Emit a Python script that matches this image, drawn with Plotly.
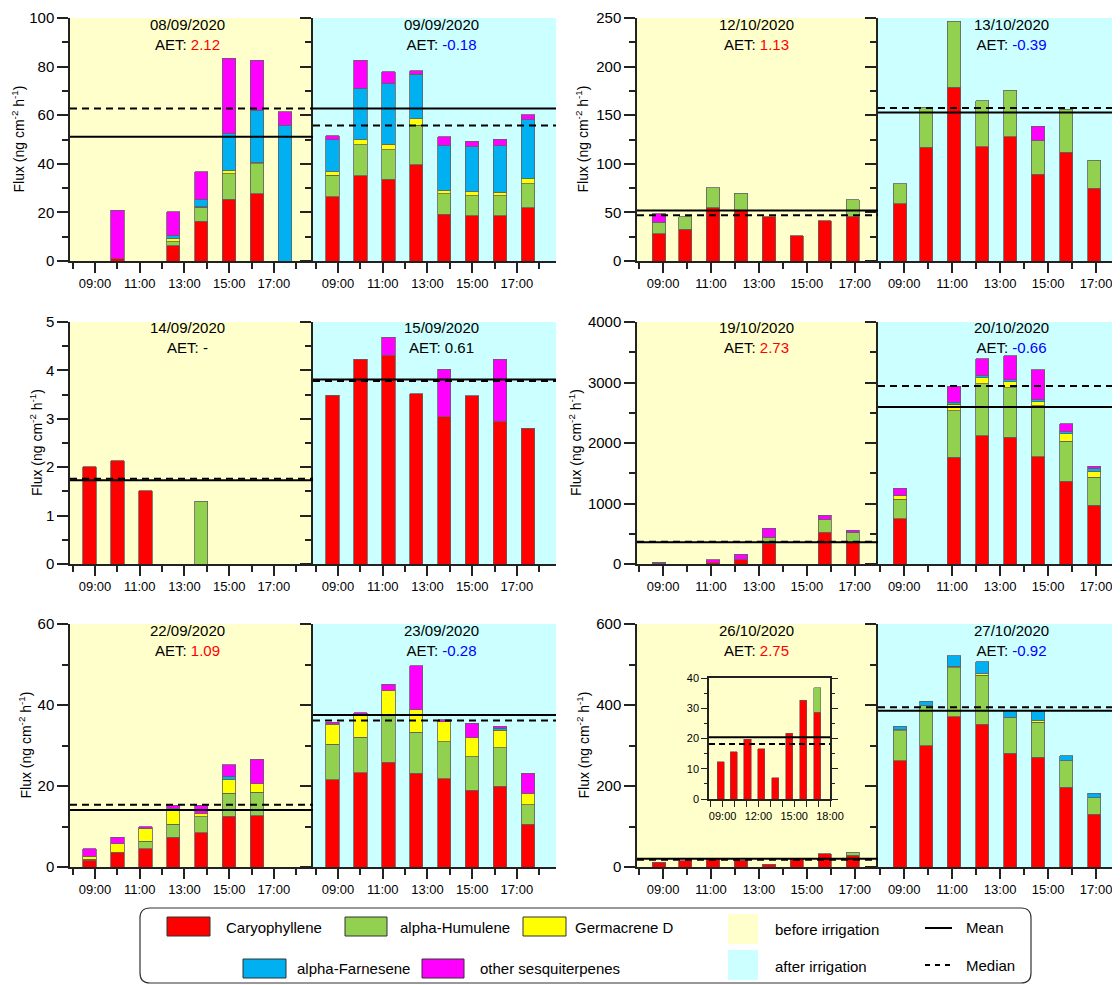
import plotly.graph_objects as go

# ---------------- data ----------------
COMPOUNDS = ["Caryophyllene", "alpha-Humulene", "Germacrene D", "alpha-Farnesene", "other sesquiterpenes"]
COMPOUND_COLORS = ["#FF0000", "#92D050", "#FFFF00", "#00B0F0", "#FF00FF"]

TIMES_SEP = [8.75, 10.0, 11.25, 12.5, 13.75, 15.0, 16.25, 17.5]
TIMES_OCT = [8.83, 9.92, 11.08, 12.25, 13.42, 14.58, 15.75, 16.92]

HOUR_TICKS = [9, 11, 13, 15, 17]
HOUR_LABELS = ["09:00", "11:00", "13:00", "15:00", "17:00"]
HOUR_MINOR = [8, 10, 12, 14, 16, 18]
INSET_TICKS = [9, 12, 15, 18]
INSET_LABELS = ["09:00", "12:00", "15:00", "18:00"]
INSET_MINOR = [8, 10, 11, 13, 14, 16, 17]

DATES = ["08/09/2020", "09/09/2020", "14/09/2020", "15/09/2020", "22/09/2020", "23/09/2020",
         "12/10/2020", "13/10/2020", "19/10/2020", "20/10/2020", "26/10/2020", "27/10/2020"]
AET = ["2.12", "-0.18", "-", "0.61", "1.09", "-0.28", "1.13", "-0.39", "2.73", "-0.66", "2.75", "-0.92"]
AET_COLORS = ["#FF0000", "#0000FF", "#000000", "#000000", "#FF0000", "#0000FF",
              "#FF0000", "#0000FF", "#FF0000", "#0000FF", "#FF0000", "#0000FF"]
MEANS = [51.1, 62.8, 1.73, 3.81, 14.1, 37.5, 51.9, 152.8, 358, 2597, 20.4, 386]
MEDIANS = [62.8, 55.8, 1.76, 3.78, 15.4, 36.2, 47.0, 157.3, 369, 2944, 18.2, 394.5]

# 08/09/2020
car_0809 = [0, 1.0, 0, 6.3, 16.3, 25.5, 27.7, 0]
hum_0809 = [0, 0, 0, 1.7, 5.8, 10.4, 12.3, 0]
ger_0809 = [0, 0, 0, 1.1, 0.3, 1.3, 0.7, 0]
far_0809 = [0, 0, 0, 1.5, 3.0, 15.4, 21.4, 55.9]
oth_0809 = [0, 19.8, 0, 9.6, 11.3, 30.9, 20.6, 5.6]
# 09/09/2020
car_0909 = [26.4, 35.0, 33.7, 39.7, 19.2, 18.7, 18.7, 22.0]
hum_0909 = [8.8, 12.9, 12.0, 16.1, 8.4, 8.1, 8.1, 9.7]
ger_0909 = [1.5, 2.0, 2.4, 2.7, 1.4, 1.6, 1.5, 2.1]
far_0909 = [13.2, 21.1, 25.1, 18.3, 18.7, 18.6, 19.1, 24.3]
oth_0909 = [1.6, 11.7, 4.7, 1.4, 3.5, 2.3, 2.7, 2.1]
# 14/09/2020
car_1409 = [2.01, 2.13, 1.51, 0, 0, 0, 0, 0]
hum_1409 = [0, 0, 0, 0, 1.30, 0, 0, 0]
ger_1409 = [0, 0, 0, 0, 0, 0, 0, 0]
far_1409 = [0, 0, 0, 0, 0, 0, 0, 0]
oth_1409 = [0, 0, 0, 0, 0, 0, 0, 0]
# 15/09/2020
car_1509 = [3.49, 4.23, 4.31, 3.52, 3.04, 3.48, 2.95, 2.80]
hum_1509 = [0, 0, 0, 0, 0, 0, 0, 0]
ger_1509 = [0, 0, 0, 0, 0, 0, 0, 0]
far_1509 = [0, 0, 0, 0, 0, 0, 0, 0]
oth_1509 = [0, 0, 0.37, 0, 0.98, 0, 1.28, 0]
# 22/09/2020
car_2209 = [1.7, 3.5, 4.5, 7.4, 8.4, 12.5, 12.7, 0]
hum_2209 = [0.2, 0.1, 1.9, 3.1, 4.0, 5.7, 5.7, 0]
ger_2209 = [0.8, 2.2, 3.0, 4.0, 0.7, 3.4, 2.1, 0]
far_2209 = [0, 0, 0, 0, 0, 0.8, 0, 0]
oth_2209 = [1.8, 1.6, 0.5, 0.8, 2.2, 2.9, 6.1, 0]
# 23/09/2020
car_2309 = [21.6, 23.3, 25.9, 23.2, 21.8, 18.9, 19.9, 10.6]
hum_2309 = [8.7, 8.7, 11.4, 10.1, 9.1, 8.3, 9.6, 4.8]
ger_2309 = [4.9, 5.4, 6.2, 5.5, 5.0, 4.7, 4.3, 2.8]
far_2309 = [0, 0, 0, 0, 0, 0, 0.4, 0]
oth_2309 = [0.6, 0.7, 1.6, 10.9, 0.5, 3.6, 0.5, 5.0]
# 12/10/2020
car_1210 = [27.8, 32.6, 54.9, 51.5, 45.3, 26.1, 41.2, 45.3]
hum_1210 = [12.0, 12.7, 20.6, 18.2, 0, 0, 0, 17.5]
ger_1210 = [0, 0, 0, 0, 0, 0, 0, 0]
far_1210 = [0, 0, 0, 0, 0, 0, 0, 0]
oth_1210 = [9.0, 0, 0, 0, 0, 0, 0, 0]
# 13/10/2020
car_1310 = [58.7, 116.8, 178.6, 117.4, 127.7, 89.3, 111.9, 74.9]
hum_1310 = [20.6, 41.5, 68.0, 47.4, 48.1, 34.3, 44.0, 28.8]
ger_1310 = [0, 0, 0, 0, 0, 0, 0, 0]
far_1310 = [0, 0, 0, 0, 0, 0, 0, 0]
oth_1310 = [0, 0, 0, 0, 0, 15.1, 0, 0]
# 19/10/2020
car_1910 = [10, 0, 20, 80, 341, 0, 523, 352]
hum_1910 = [0, 0, 0, 0, 99, 0, 214, 165]
ger_1910 = [0, 0, 0, 0, 0, 0, 0, 0]
far_1910 = [0, 0, 0, 0, 0, 0, 0, 0]
oth_1910 = [20, 0, 50, 80, 148, 0, 66, 44]
# 20/10/2020
car_2010 = [748, 0, 1766, 2118, 2091, 1772, 1370, 974]
hum_2010 = [325, 0, 765, 864, 825, 842, 655, 462]
ger_2010 = [55, 0, 105, 99, 94, 71, 126, 99]
far_2010 = [10, 0, 39, 39, 38, 39, 39, 39]
oth_2010 = [111, 0, 259, 275, 391, 484, 126, 38]
# 26/10/2020
car_2610 = [12.3, 15.7, 19.8, 16.6, 7.0, 21.8, 32.7, 28.7]
hum_2610 = [0, 0, 0, 0, 0, 0, 0, 8.0]
ger_2610 = [0, 0, 0, 0, 0, 0, 0, 0]
far_2610 = [0, 0, 0, 0, 0, 0, 0, 0]
oth_2610 = [0, 0, 0, 0, 0, 0, 0, 0]
# 27/10/2020
car_2710 = [262, 300, 371, 352, 281, 271, 197, 130]
hum_2710 = [74, 98, 121, 121, 89, 86, 65, 41]
ger_2710 = [3, 0, 4, 4, 0, 4, 0, 0]
far_2710 = [8, 11, 26, 30, 16, 23, 13, 11]
oth_2710 = [0, 0, 0, 0, 0, 0, 0, 0]

DAY_SERIES = [
    [car_0809, hum_0809, ger_0809, far_0809, oth_0809],
    [car_0909, hum_0909, ger_0909, far_0909, oth_0909],
    [car_1409, hum_1409, ger_1409, far_1409, oth_1409],
    [car_1509, hum_1509, ger_1509, far_1509, oth_1509],
    [car_2209, hum_2209, ger_2209, far_2209, oth_2209],
    [car_2309, hum_2309, ger_2309, far_2309, oth_2309],
    [car_1210, hum_1210, ger_1210, far_1210, oth_1210],
    [car_1310, hum_1310, ger_1310, far_1310, oth_1310],
    [car_1910, hum_1910, ger_1910, far_1910, oth_1910],
    [car_2010, hum_2010, ger_2010, far_2010, oth_2010],
    [car_2610, hum_2610, ger_2610, far_2610, oth_2610],
    [car_2710, hum_2710, ger_2710, far_2710, oth_2710],
]
# y-axis setup per panel: (max, major step, minor step)
Y_SCALES = [(100, 20, 10), (5, 1, 0.5), (60, 20, 10), (250, 50, 25), (4000, 1000, 500), (600, 200, 100)]

# ---------------- layout geometry (screen pixels; page is offset by the body margin) ----------------
W, H = 1120, 985
OFF = 8
def px(x):
    return (x - OFF) / W
def py(y):
    return 1 - (y - OFF) / H

ROWS = [(18, 261), (322, 564), (624, 867)]
COLS = [(70, 313, 556), (637, 878, 1128)]
XRANGES = [[(7.88, 18.75), (7.88, 18.75)], [(7.91, 17.97), (7.91, 18.33)]]
COL_TIMES = [TIMES_SEP, TIMES_OCT]
BAR_W = [0.6, 0.55]
TITLE_X = [(187, 441), (756, 1011)]
TITLE_TOP = [14, 317, 620]
YTITLE_X = [(19, 583), (36, 575), (25, 583)]
BG = ["#FFFFCC", "#CCFFFF"]
FONT = "Arial, 'Liberation Sans', sans-serif"
AX = "#222222"

fig = go.Figure()
layout = dict(width=W, height=H, margin=dict(l=0, r=0, t=0, b=0, pad=0, autoexpand=False),
              paper_bgcolor="white", plot_bgcolor="rgba(0,0,0,0)",
              barmode="stack", showlegend=False, font=dict(family=FONT, color="black"))
shapes = []
annotations = []

k = 0
for col in range(2):
    for row in range(3):
        panel = col * 3 + row
        ymax, ystep, yminor = Y_SCALES[panel]
        top, bot = ROWS[row]
        for sub in range(2):
            day = panel * 2 + sub
            k += 1
            xa = "x" if k == 1 else f"x{k}"
            ya = "y" if k == 1 else f"y{k}"
            xkey = "xaxis" if k == 1 else f"xaxis{k}"
            ykey = "yaxis" if k == 1 else f"yaxis{k}"
            x0p, x1p = COLS[col][sub], COLS[col][sub + 1]
            layout[xkey] = dict(
                domain=[px(x0p), min(1.0, px(x1p))], range=list(XRANGES[col][sub]), anchor=ya,
                automargin=False,
                showline=True, linecolor=AX, linewidth=1.5, showgrid=False, zeroline=False,
                ticks="outside", ticklen=10, tickwidth=1.5, tickcolor=AX,
                tickmode="array", tickvals=HOUR_TICKS, ticktext=HOUR_LABELS,
                tickfont=dict(size=13, family=FONT),
                minor=dict(tickmode="array", tickvals=HOUR_MINOR, ticks="outside", ticklen=6,
                           tickwidth=1.5, tickcolor=AX),
                fixedrange=True)
            layout[ykey] = dict(
                domain=[py(bot), py(top)], range=[0, ymax], anchor=xa, automargin=False,
                showline=True, linecolor=AX, linewidth=1.5, showgrid=False, zeroline=False,
                ticks="outside", ticklen=11, tickwidth=1.5, tickcolor=AX,
                tick0=0, dtick=ystep, showticklabels=(sub == 0),
                tickfont=dict(size=15, family=FONT),
                minor=dict(tick0=0, dtick=yminor, ticks="outside", ticklen=6,
                           tickwidth=1.5, tickcolor=AX),
                fixedrange=True)
            # background
            shapes.append(dict(type="rect", xref=f"{xa} domain", yref=f"{ya} domain",
                               x0=0, x1=1, y0=0, y1=1, fillcolor=BG[sub],
                               line=dict(width=0), layer="below"))
            # bars
            series = DAY_SERIES[day]
            for ci in range(5):
                vals = [v if v > 0 else None for v in series[ci]]
                fig.add_trace(go.Bar(
                    x=COL_TIMES[col], y=vals, width=BAR_W[col], name=COMPOUNDS[ci],
                    marker=dict(color=COMPOUND_COLORS[ci], line=dict(color="#606060", width=0.8)),
                    xaxis=xa, yaxis=ya, showlegend=False, hoverinfo="skip"))
            # mean / median
            shapes.append(dict(type="line", xref=f"{xa} domain", yref=ya, x0=0, x1=1,
                               y0=MEANS[day], y1=MEANS[day], line=dict(color="black", width=2)))
            shapes.append(dict(type="line", xref=f"{xa} domain", yref=ya, x0=0, x1=1,
                               y0=MEDIANS[day], y1=MEDIANS[day],
                               line=dict(color="black", width=2, dash="7px,5px")))
            # title
            annotations.append(dict(
                xref="paper", yref="paper", x=px(TITLE_X[col][sub]), y=py(TITLE_TOP[row]),
                xanchor="center", yanchor="top", showarrow=False, align="center",
                text=f"{DATES[day]}<br>AET: <span style='color:{AET_COLORS[day]}'>{AET[day]}</span>",
                font=dict(size=15, family=FONT, color="black")))
        # y-axis title
        annotations.append(dict(
            xref="paper", yref="paper", x=px(YTITLE_X[row][col]), y=py((top + bot) / 2),
            xanchor="center", yanchor="middle", showarrow=False, textangle=-90,
            text="Flux (ng cm<sup>-2</sup> h<sup>-1</sup>)",
            font=dict(size=14, family=FONT, color="black")))

# ---------------- inset for 26/10/2020 ----------------
k += 1
xa, ya = f"x{k}", f"y{k}"
layout[f"xaxis{k}"] = dict(
    domain=[px(709), px(830)], range=[7.86, 18.0], anchor=ya, automargin=False,
    showline=True, mirror=True, linecolor=AX, linewidth=1.5, showgrid=False, zeroline=False,
    ticks="outside", ticklen=6, tickwidth=1.2, tickcolor=AX,
    tickmode="array", tickvals=INSET_TICKS, ticktext=INSET_LABELS,
    tickfont=dict(size=11, family=FONT),
    minor=dict(tickmode="array", tickvals=INSET_MINOR, ticks="outside", ticklen=6,
               tickwidth=1.2, tickcolor=AX),
    fixedrange=True)
layout[f"yaxis{k}"] = dict(
    domain=[py(799), py(678)], range=[0, 40], anchor=xa, automargin=False,
    showline=True, mirror="allticks", linecolor=AX, linewidth=1.5, showgrid=False, zeroline=False,
    ticks="outside", ticklen=6, tickwidth=1.2, tickcolor=AX, tick0=0, dtick=10,
    tickfont=dict(size=11, family=FONT),
    minor=dict(tick0=0, dtick=5, ticks="outside", ticklen=3, tickwidth=1.2, tickcolor=AX),
    fixedrange=True)
inset_series = DAY_SERIES[10]
for ci in range(5):
    vals = [v if v > 0 else None for v in inset_series[ci]]
    fig.add_trace(go.Bar(
        x=TIMES_OCT, y=vals, width=0.6, name=COMPOUNDS[ci],
        marker=dict(color=COMPOUND_COLORS[ci], line=dict(color="#606060", width=0.6)),
        xaxis=xa, yaxis=ya, showlegend=False, hoverinfo="skip"))
shapes.append(dict(type="line", xref=f"{xa} domain", yref=ya, x0=0, x1=1,
                   y0=MEANS[10], y1=MEANS[10], line=dict(color="black", width=2)))
shapes.append(dict(type="line", xref=f"{xa} domain", yref=ya, x0=0, x1=1,
                   y0=MEDIANS[10], y1=MEDIANS[10], line=dict(color="black", width=2, dash="6px,4px")))

# ---------------- legend (drawn manually) ----------------
def rounded_box(x0, y0, x1, y1, r):
    pts = [("M", x0 + r, y0), ("L", x1 - r, y0), ("Q", x1, y0, x1, y0 + r), ("L", x1, y1 - r),
           ("Q", x1, y1, x1 - r, y1), ("L", x0 + r, y1), ("Q", x0, y1, x0, y1 - r),
           ("L", x0, y0 + r), ("Q", x0, y0, x0 + r, y0)]
    s = ""
    for p in pts:
        cmd = p[0]
        coords = p[1:]
        parts = []
        for i in range(0, len(coords), 2):
            parts.append(f"{px(coords[i]):.5f},{py(coords[i + 1]):.5f}")
        s += cmd + " " + " ".join(parts) + " "
    return s + "Z"

shapes.append(dict(type="path", xref="paper", yref="paper", path=rounded_box(140, 908, 1031, 983, 10),
                   line=dict(color="#333333", width=1.2), fillcolor="white", layer="below"))

LEG_ITEMS = [  # (swatch x0, x1, y0, y1, text x, text y)
    (167, 210, 917, 936, 224, 927),
    (345, 387, 917, 936, 398, 927),
    (523, 566, 917, 936, 573, 927),
    (243, 286, 959, 978, 295, 968),
    (422, 464, 959, 978, 478, 968),
]
LEG_FONT = 15
for ci, (sx0, sx1, sy0, sy1, tx, ty) in enumerate(LEG_ITEMS):
    shapes.append(dict(type="rect", xref="paper", yref="paper", x0=px(sx0), x1=px(sx1),
                       y0=py(sy1), y1=py(sy0), fillcolor=COMPOUND_COLORS[ci],
                       line=dict(color="#333333", width=1)))
    annotations.append(dict(xref="paper", yref="paper", x=px(tx), y=py(ty), xanchor="left",
                            yanchor="middle", showarrow=False, text=COMPOUNDS[ci],
                            font=dict(size=LEG_FONT, family=FONT, color="black")))

BG_LABELS = ["before irrigation", "after irrigation"]
for i, (y0, y1, ty) in enumerate([(914, 944, 929), (950, 980, 966)]):
    shapes.append(dict(type="rect", xref="paper", yref="paper", x0=px(728), x1=px(758),
                       y0=py(y1), y1=py(y0), fillcolor=BG[i], line=dict(width=0)))
    annotations.append(dict(xref="paper", yref="paper", x=px(773), y=py(ty), xanchor="left",
                            yanchor="middle", showarrow=False, text=BG_LABELS[i],
                            font=dict(size=LEG_FONT, family=FONT, color="black")))

shapes.append(dict(type="line", xref="paper", yref="paper", x0=px(925), x1=px(952),
                   y0=py(928), y1=py(928), line=dict(color="black", width=2)))
shapes.append(dict(type="line", xref="paper", yref="paper", x0=px(925), x1=px(952),
                   y0=py(965), y1=py(965), line=dict(color="black", width=2, dash="5px,5px")))
annotations.append(dict(xref="paper", yref="paper", x=px(964), y=py(927), xanchor="left",
                        yanchor="middle", showarrow=False, text="Mean",
                        font=dict(size=LEG_FONT, family=FONT, color="black")))
annotations.append(dict(xref="paper", yref="paper", x=px(964), y=py(965), xanchor="left",
                        yanchor="middle", showarrow=False, text="Median",
                        font=dict(size=LEG_FONT, family=FONT, color="black")))

layout["shapes"] = shapes
layout["annotations"] = annotations
fig.update_layout(**layout)
fig.write_html("out.html")
